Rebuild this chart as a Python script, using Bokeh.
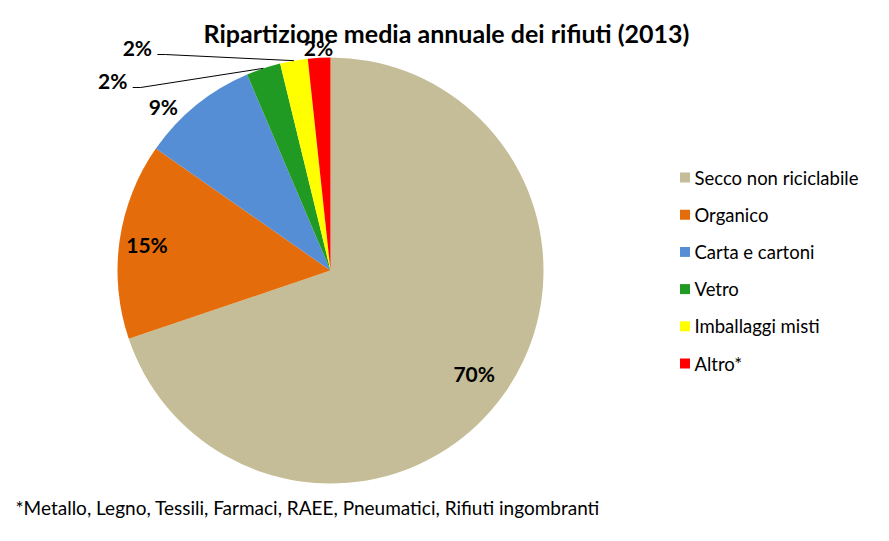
import math
from bokeh.plotting import figure
from bokeh.models import Range1d, ColumnDataSource
from bokeh.core.properties import value
from bokeh.embed import file_html
from bokeh.resources import INLINE

# ---- data ----
categories = ["Secco non riciclabile", "Organico", "Carta e cartoni", "Vetro",
              "Imballaggi misti", "Altro*"]
shares = [69.8, 14.9, 8.9, 2.6, 2.1, 1.7]
labels = ["70%", "15%", "9%", "2%", "2%", "2%"]
colors = ["#C4BD97", "#E46C0A", "#558ED5", "#219A24", "#FFFF00", "#FF0000"]
title_text = "Ripartizione media annuale dei rifiuti (2013)"
footnote = "*Metallo, Legno, Tessili, Farmaci, RAEE, Pneumatici, Rifiuti ingombranti"

# ---- layout ----
W, H = 889, 541
CX, CY_IMG, R = 330, 270, 213
FONT = "Lato"

def Y(y_img):
    return H - y_img

p = figure(width=W, height=H, output_backend="svg", toolbar_location=None,
           x_range=Range1d(0, W), y_range=Range1d(0, H),
           x_axis_location=None, y_axis_location=None, min_border=0,
           outline_line_color=None, background_fill_color="white",
           border_fill_color="white")
p.grid.visible = False

total = sum(shares)
starts, ends, mids = [], [], []
cum = 0.0
for s in shares:
    a0 = cum / total * 360.0
    cum += s
    a1 = cum / total * 360.0
    starts.append(a0); ends.append(a1); mids.append((a0 + a1) / 2)

src = ColumnDataSource(dict(
    x=[CX] * len(shares), y=[Y(CY_IMG)] * len(shares),
    start=[math.radians(90 - a) for a in starts],
    end=[math.radians(90 - a) for a in ends],
    color=colors))
p.wedge(x="x", y="y", radius=R, radius_units="screen", start_angle="start",
        end_angle="end", direction="clock", fill_color="color",
        line_color=None, source=src)

def polar(angle_deg, rad):
    t = math.radians(angle_deg)
    return CX + rad * math.sin(t), Y(CY_IMG) + rad * math.cos(t)

# label placement (angle clockwise from top, radius factor)
label_polar = [(mids[0], 0.83), (mids[1], 0.87), (314.5, 1.10),
               (311.1, 1.357), (319.1, 1.385), (356.9, 1.048)]
lx, ly = [], []
for ang, f in label_polar:
    x, y = polar(ang, f * R)
    lx.append(x); ly.append(y)
p.text(x=lx, y=ly, text=labels, text_font=value(FONT), text_font_style="bold",
       text_font_size="21px", text_align="center", text_baseline="middle",
       text_color="black")

# leader lines for Vetro and Imballaggi
for i in (3, 4):
    sx, sy = lx[i] + 20, ly[i] - 7
    ex, ey = polar(mids[i], R)
    p.line(x=[sx, sx + 8, ex], y=[sy, sy, ey], line_color="black", line_width=1)

# title
p.text(x=[446], y=[Y(32)], text=[title_text], text_font=value(FONT),
       text_font_style="bold", text_font_size="25px", text_align="center",
       text_baseline="middle", text_color="black")

# legend
leg_y0, leg_dy = 177, 37.2
for i, (c, name) in enumerate(zip(colors, categories)):
    yy = Y(leg_y0 + i * leg_dy)
    p.rect(x=[684.5], y=[yy], width=10, height=10, width_units="screen",
           height_units="screen", fill_color=c, line_color=None)
    p.text(x=[694], y=[yy], text=[name], text_font=value(FONT),
           text_font_size="18.5px", text_align="left", text_baseline="middle",
           text_color="black")

# footnote
p.text(x=[15], y=[Y(507)], text=[footnote], text_font=value(FONT),
       text_font_size="19px", text_align="left", text_baseline="middle",
       text_color="black")

open("out.html", "w").write(file_html(p, INLINE))
